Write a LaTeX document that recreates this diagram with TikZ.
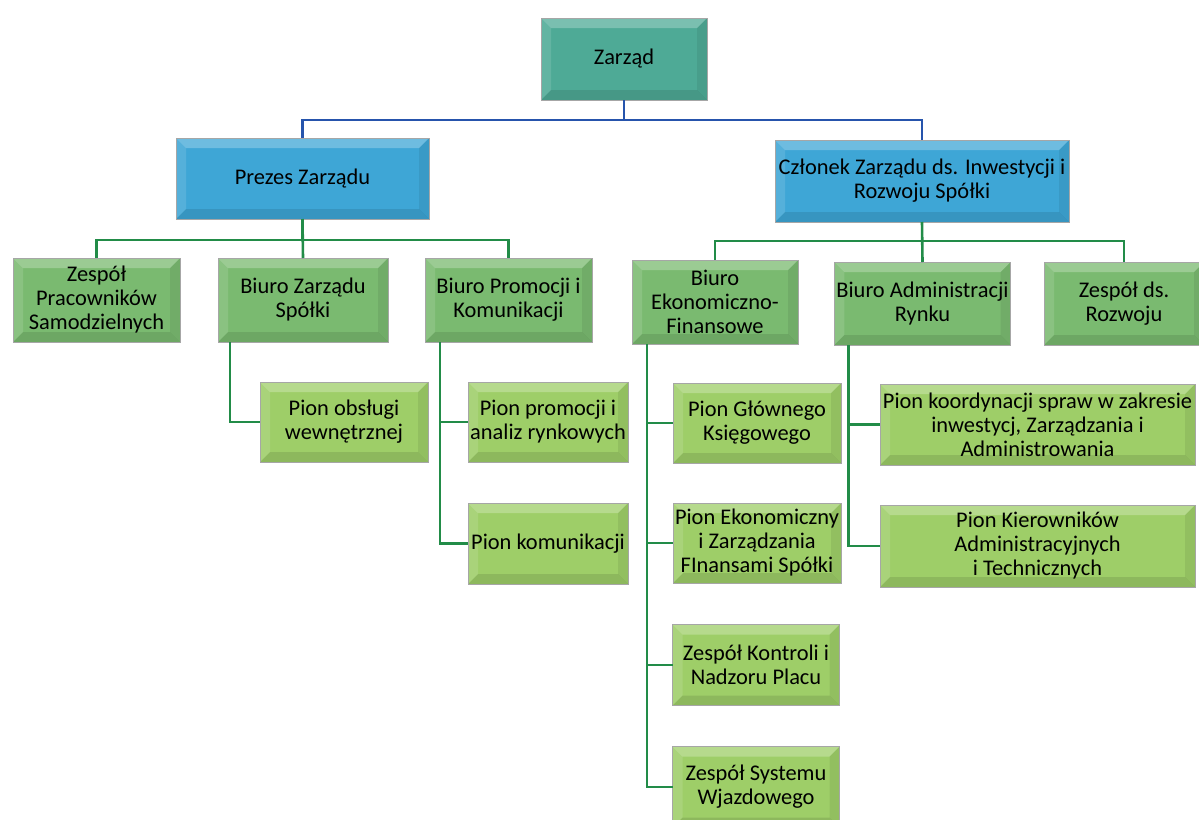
\documentclass[tikz,border=0pt]{standalone}
\usepackage{fontspec}
\setmainfont{Carlito}

\definecolor{zteal}{RGB}{78,170,150}
\definecolor{zblue}{RGB}{62,166,214}
\definecolor{zgreen}{RGB}{122,186,112}
\definecolor{zlime}{RGB}{158,206,104}
\definecolor{zbusblue}{RGB}{38,84,172}
\definecolor{zbusgreen}{RGB}{34,140,72}

\tikzset{
  bevel/.style={path picture={
    \coordinate (bvnw) at (path picture bounding box.north west);
    \coordinate (bvse) at (path picture bounding box.south east);
    \fill[white,opacity=.25] (bvnw) -- (bvnw -| bvse) -- ++(-5pt,-5pt)
        -- ([shift={(5pt,-5pt)}]bvnw) -- cycle;
    \fill[white,opacity=.12] (bvnw) -- (bvnw |- bvse) -- ++(5pt,5pt)
        -- ([shift={(5pt,-5pt)}]bvnw) -- cycle;
    \fill[black,opacity=.10] (bvse) -- (bvnw |- bvse) -- ++(5pt,5pt)
        -- ([shift={(-5pt,5pt)}]bvse) -- cycle;
    \fill[black,opacity=.07] (bvse) -- (bvnw -| bvse) -- ++(-5pt,-5pt)
        -- ([shift={(-5pt,5pt)}]bvse) -- cycle;
  }},
  wh/.style 2 args={minimum width=#1*.5pt,minimum height=#2*.5pt},
  box/.style={draw=black!35,line width=.4pt,align=center,inner sep=1pt,
    outer sep=0pt,font=\fontsize{11.2}{12}\selectfont,bevel},
  head/.style={box,fill=zteal},
  board/.style={box,fill=zblue},
  office/.style={box,fill=zgreen},
  unit/.style={box,fill=zlime},
  bluebus/.style={draw=zbusblue,line width=1.3pt},
  greenbus/.style={draw=zbusgreen,line width=1.3pt},
}

\begin{document}
\begin{tikzpicture}[x=.5pt,y=-.5pt]
\useasboundingbox (0,0) rectangle (1199,819);
\fill[white] (0,0) rectangle (1199,819);

% top
\node[head,wh={166}{82}]  (zarzad)  at ( 624  , 59  ) {Zarząd};
\node[board,wh={253}{81}] (prezes)  at ( 302.5,178.5) {Prezes Zarządu};
\node[board,wh={294}{82}] (czlonek) at ( 922  ,181  ) {Członek Zarządu ds. Inwestycji i\\Rozwoju Spółki};

% biura
\node[office,wh={167}{84}] (zps) at (  96.5,300  ) {Zespół\\Pracowników\\Samodzielnych};
\node[office,wh={170}{84}] (bzs) at ( 303  ,300  ) {Biuro Zarządu\\Spółki};
\node[office,wh={167}{84}] (bpk) at ( 508.5,300  ) {Biuro Promocji i\\Komunikacji};
\node[office,wh={166}{84}] (bef) at ( 715  ,302  ) {Biuro\\Ekonomiczno-\\Finansowe};
\node[office,wh={169}{83}] (bar) at ( 922.5,303.5) {Biuro Administracji\\Rynku};
\node[office,wh={160}{83}] (zdr) at (1124  ,303.5) {Zespół ds.\\Rozwoju};

% piony
\node[unit,wh={168}{80}] (pow)  at ( 344  ,422  ) {Pion obsługi\\wewnętrznej};
\node[unit,wh={160}{80}] (ppa)  at ( 548  ,422  ) {Pion promocji i\\analiz rynkowych};
\node[unit,wh={160}{81}] (pkom) at ( 548  ,543.5) {Pion komunikacji};
\node[unit,wh={168}{80}] (pgk)  at ( 757  ,423  ) {Pion Głównego\\Księgowego};
\node[unit,wh={168}{80}] (pez)  at ( 757  ,543  ) {Pion Ekonomiczny\\i Zarządzania\\FInansami Spółki};
\node[unit,wh={167}{81}] (zkn)  at ( 756  ,665  ) {Zespół Kontroli i\\Nadzoru Placu};
\node[unit,wh={167}{81}] (zsw)  at ( 756  ,787  ) {Zespół Systemu\\Wjazdowego};
\node[unit,wh={315}{81}] (pkz)  at (1037.5,424.5) {Pion koordynacji spraw w zakresie\\inwestycj, Zarządzania i\\Administrowania};
\node[unit,wh={315}{82}] (pka)  at (1037.5,546  ) {Pion Kierowników\\Administracyjnych\\i Technicznych};

% polaczenia
\draw[bluebus] (zarzad.south) -- ++(0,20) -| (prezes.north);
\draw[bluebus] (zarzad.south) -- ++(0,20) -| (czlonek.north);

\draw[greenbus] (prezes.south) -- ++(0,21) -| (zps.north);
\draw[greenbus] (prezes.south) -- ++(0,21) -| (bpk.north);
\draw[greenbus] (prezes.south) -- (bzs.north);
\draw[greenbus] (czlonek.south) -- ++(0,19) -| (bef.north);
\draw[greenbus] (czlonek.south) -- ++(0,19) -| (zdr.north);
\draw[greenbus] (czlonek.south) -- (bar.north);

\draw[greenbus] ([xshift=6pt]bzs.south west)   |- (pow.west);
\draw[greenbus] ([xshift=7.5pt]bpk.south west) |- (ppa.west);
\draw[greenbus] ([xshift=7.5pt]bpk.south west) |- (pkom.west);
\draw[greenbus] ([xshift=7.5pt]bef.south west) |- (pgk.west);
\draw[greenbus] ([xshift=7.5pt]bef.south west) |- (pez.west);
\draw[greenbus] ([xshift=7.5pt]bef.south west) |- (zkn.west);
\draw[greenbus] ([xshift=7.5pt]bef.south west) |- (zsw.west);
\draw[greenbus] ([xshift=7pt]bar.south west)   |- (pkz.west);
\draw[greenbus] ([xshift=7pt]bar.south west)   |- (pka.west);
\end{tikzpicture}
\end{document}
